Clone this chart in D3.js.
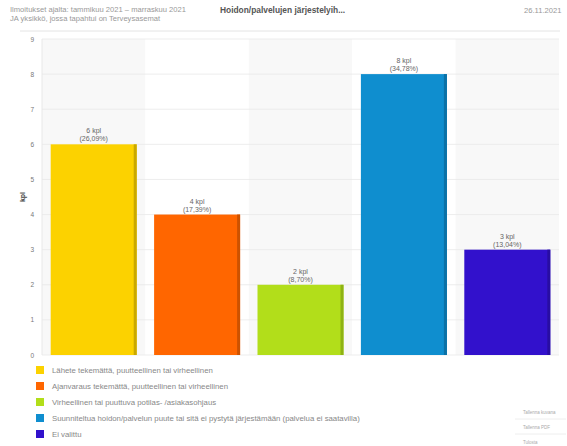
<!DOCTYPE html>
<html><head><meta charset="utf-8">
<script src="https://cdn.jsdelivr.net/npm/d3@7"></script>
<style>body{margin:0;background:#fff;font-family:"Liberation Sans",Arial,sans-serif;overflow:hidden}</style>
</head><body><svg id="c" width="567" height="446"></svg>
<script>
const categories = [
  "Lähete tekemättä, puutteellinen tai virheellinen",
  "Ajanvaraus tekemättä, puutteellinen tai virheellinen",
  "Virheellinen tai puuttuva potilas- /asiakasohjaus",
  "Suunniteltua hoidon/palvelun puute tai sitä ei pystytä järjestämään (palvelua ei saatavilla)",
  "Ei valittu"
];
const values = [6, 4, 2, 8, 3];
const percents = ["26,09%", "17,39%", "8,70%", "34,78%", "13,04%"];
const colors = ["#FCD200", "#FF6600", "#B2DE1A", "#0F8ECF", "#3211CC"];
const darkColors = ["#C9A800", "#CC5200", "#8EB214", "#0B71A6", "#280DA3"];
const yTicks = [0,1,2,3,4,5,6,7,8,9];
const menuItems = ["Tallenna kuvana", "Tallenna PDF", "Tulosta"];

const svg = d3.select("#c");
const m = {l:42, r:559, t:39, b:355};
const x = d3.scaleBand().domain(d3.range(values.length)).range([m.l, m.r]).paddingInner(0).paddingOuter(0);
const y = d3.scaleLinear().domain([0,9]).range([m.b, m.t]);

// header
svg.append("text").attr("x",10).attr("y",12).attr("font-size",7.6).attr("fill","#999").text("Ilmoitukset ajalta: tammikuu 2021 – marraskuu 2021");
svg.append("text").attr("x",10).attr("y",21).attr("font-size",7.6).attr("fill","#999").text("JA yksikkö, jossa tapahtui on Terveysasemat");
svg.append("text").attr("x",220).attr("y",13).attr("font-size",8.4).attr("font-weight","bold").attr("fill","#555").text("Hoidon/palvelujen järjestelyih...");
svg.append("text").attr("x",524).attr("y",13).attr("font-size",7.6).attr("fill","#999").text("26.11.2021");
svg.append("line").attr("x1",20).attr("x2",560).attr("y1",31).attr("y2",31).attr("stroke","#e4e4e4");

// alternate column backgrounds
svg.selectAll("rect.bg").data(values).enter().append("rect")
  .attr("x",(d,i)=>x(i)).attr("y",m.t).attr("width",x.bandwidth()).attr("height",m.b-m.t)
  .attr("fill",(d,i)=>i%2===0?"#f8f8f8":"#fff");

// gridlines
svg.selectAll("line.g").data(yTicks).enter().append("line")
  .attr("x1",m.l).attr("x2",m.r).attr("y1",d=>y(d)).attr("y2",d=>y(d))
  .attr("stroke","#e8e8e8").attr("stroke-width",0.8);
svg.append("line").attr("x1",m.l).attr("x2",m.l).attr("y1",m.t).attr("y2",m.b).attr("stroke","#e8e8e8");

// y tick labels
svg.selectAll("text.yt").data(yTicks).enter().append("text")
  .attr("x",34).attr("y",d=>y(d)+2.5).attr("text-anchor","end").attr("font-size",6.5).attr("fill","#777").text(d=>d);
svg.append("text").attr("transform","translate(25,197) rotate(-90)").attr("text-anchor","middle")
  .attr("font-size",7).attr("font-weight","bold").attr("fill","#444").text("kpl");

// bars
const bw = 86, off = (x.bandwidth()-bw)/2;
const g = svg.selectAll("g.bar").data(values).enter().append("g");
g.append("rect").attr("x",(d,i)=>x(i)+off).attr("y",d=>y(d)).attr("width",bw).attr("height",d=>m.b-y(d)).attr("fill",(d,i)=>colors[i]);
g.append("rect").attr("x",(d,i)=>x(i)+off+bw-3).attr("y",d=>y(d)).attr("width",3).attr("height",d=>m.b-y(d)).attr("fill",(d,i)=>darkColors[i]);
g.append("text").attr("x",(d,i)=>x(i)+x.bandwidth()/2).attr("y",d=>y(d)-11).attr("text-anchor","middle")
  .attr("font-size",7).attr("fill","#666").text(d=>d+" kpl");
g.append("text").attr("x",(d,i)=>x(i)+x.bandwidth()/2).attr("y",d=>y(d)-3).attr("text-anchor","middle")
  .attr("font-size",7).attr("fill","#666").text((d,i)=>"("+percents[i]+")");

// legend
const lg = svg.selectAll("g.lg").data(categories).enter().append("g")
  .attr("transform",(d,i)=>`translate(36,${366+i*16})`);
lg.append("rect").attr("width",8).attr("height",8).attr("fill",(d,i)=>colors[i]);
lg.append("text").attr("x",16).attr("y",7).attr("font-size",7.8).attr("fill","#888").text(d=>d);

// menu
menuItems.forEach((t,i)=>{
  svg.append("text").attr("x",523).attr("y",414+i*15).attr("font-size",4.5).attr("fill","#aaa").text(t);
  if(i<2) svg.append("line").attr("x1",515).attr("x2",566).attr("y1",419+i*15).attr("y2",419+i*15).attr("stroke","#eee");
});
</script></body></html>
